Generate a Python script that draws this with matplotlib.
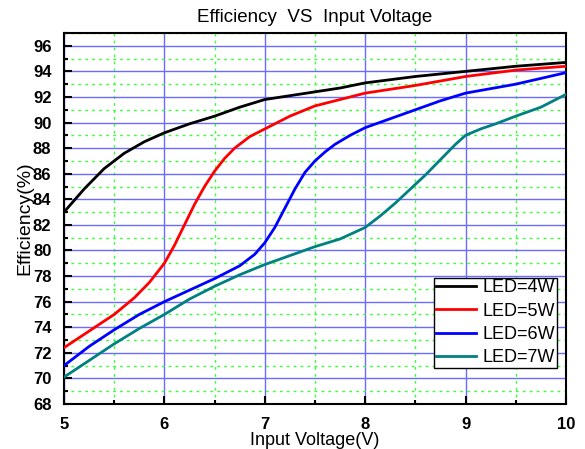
import matplotlib
matplotlib.use("Agg")
import matplotlib.pyplot as plt
from matplotlib.ticker import MultipleLocator

plt.rcParams['font.family'] = ['Liberation Sans', 'DejaVu Sans']

v_4w = [5.0, 5.2, 5.4, 5.6, 5.8, 6.0, 6.25, 6.5, 6.75, 7.0, 7.25, 7.5, 7.75, 8.0, 8.5, 9.0, 9.5, 10.0]
eff_4w = [83.0, 84.8, 86.4, 87.6, 88.5, 89.2, 89.9, 90.5, 91.2, 91.8, 92.1, 92.4, 92.7, 93.1, 93.6, 94.0, 94.4, 94.7]

v_5w = [5.0, 5.25, 5.5, 5.7, 5.85, 6.0, 6.1, 6.2, 6.3, 6.4, 6.5, 6.6, 6.7, 6.85, 7.0, 7.25, 7.5, 7.75, 8.0, 8.5, 9.0, 9.5, 10.0]
eff_5w = [72.4, 73.7, 75.0, 76.3, 77.5, 79.0, 80.4, 82.0, 83.6, 85.0, 86.2, 87.2, 88.0, 88.9, 89.5, 90.5, 91.3, 91.8, 92.3, 92.9, 93.6, 94.1, 94.4]

v_6w = [5.0, 5.25, 5.5, 5.75, 6.0, 6.25, 6.5, 6.75, 6.9, 7.0, 7.1, 7.2, 7.3, 7.4, 7.5, 7.6, 7.7, 7.85, 8.0, 8.25, 8.5, 8.75, 9.0, 9.5, 10.0]
eff_6w = [71.0, 72.5, 73.8, 75.0, 76.0, 76.9, 77.8, 78.8, 79.7, 80.6, 81.8, 83.3, 84.8, 86.1, 87.0, 87.7, 88.3, 89.0, 89.6, 90.3, 91.0, 91.7, 92.3, 93.0, 93.9]

v_7w = [5.0, 5.25, 5.5, 5.75, 6.0, 6.25, 6.5, 6.75, 7.0, 7.25, 7.5, 7.75, 8.0, 8.15, 8.3, 8.45, 8.6, 8.75, 8.9, 9.0, 9.15, 9.3, 9.5, 9.75, 10.0]
eff_7w = [70.1, 71.4, 72.7, 73.9, 75.0, 76.2, 77.2, 78.1, 78.9, 79.6, 80.3, 80.9, 81.8, 82.7, 83.7, 84.8, 85.9, 87.1, 88.3, 89.0, 89.5, 89.9, 90.5, 91.2, 92.2]

series = [(v_4w, eff_4w, 'black', 'LED=4W'),
          (v_5w, eff_5w, 'red', 'LED=5W'),
          (v_6w, eff_6w, 'blue', 'LED=6W'),
          (v_7w, eff_7w, '#008080', 'LED=7W')]

fig = plt.figure(figsize=(5.85, 4.49), dpi=100)
ax = fig.add_axes([0.1094, 0.1002, 0.858, 0.8263])

for x, y, c, lab in series:
    ax.plot(x, y, color=c, lw=2, label=lab, zorder=3, solid_joinstyle='round')

ax.set_xlim(5, 10)
ax.set_ylim(68, 97)
ax.xaxis.set_major_locator(MultipleLocator(1))
ax.xaxis.set_minor_locator(MultipleLocator(0.5))
ax.yaxis.set_major_locator(MultipleLocator(2))
ax.yaxis.set_minor_locator(MultipleLocator(1))

ax.grid(which='major', color='#6b6bff', lw=1, ls='-')
ax.grid(which='minor', color='#3cff3c', lw=1, ls=(0, (2, 3)))

ax.tick_params(which='both', direction='in', top=False, right=False, width=1.5)
ax.tick_params(which='major', length=6, labelsize=12, pad=9)
ax.tick_params(which='minor', length=3)
for lbl in ax.get_xticklabels() + ax.get_yticklabels():
    lbl.set_fontweight('bold')
for s in ax.spines.values():
    s.set_linewidth(1.5)

ax.set_title('Efficiency  VS  Input Voltage', fontsize=13.5, pad=8)
ax.set_xlabel('Input Voltage(V)', fontsize=13, labelpad=0)
ax.set_ylabel('Efficiency(%)', fontsize=14)
ax.yaxis.set_label_coords(-0.062, 0.5)

leg = ax.legend(loc='lower right', bbox_to_anchor=(0.99, 0.087), fontsize=13,
                fancybox=False, framealpha=1, edgecolor='black',
                handlelength=2.2, labelspacing=0.35, borderpad=0.1,
                handletextpad=0.4, borderaxespad=0.2)
leg.get_frame().set_linewidth(1)

plt.savefig('out.png', dpi=100)
